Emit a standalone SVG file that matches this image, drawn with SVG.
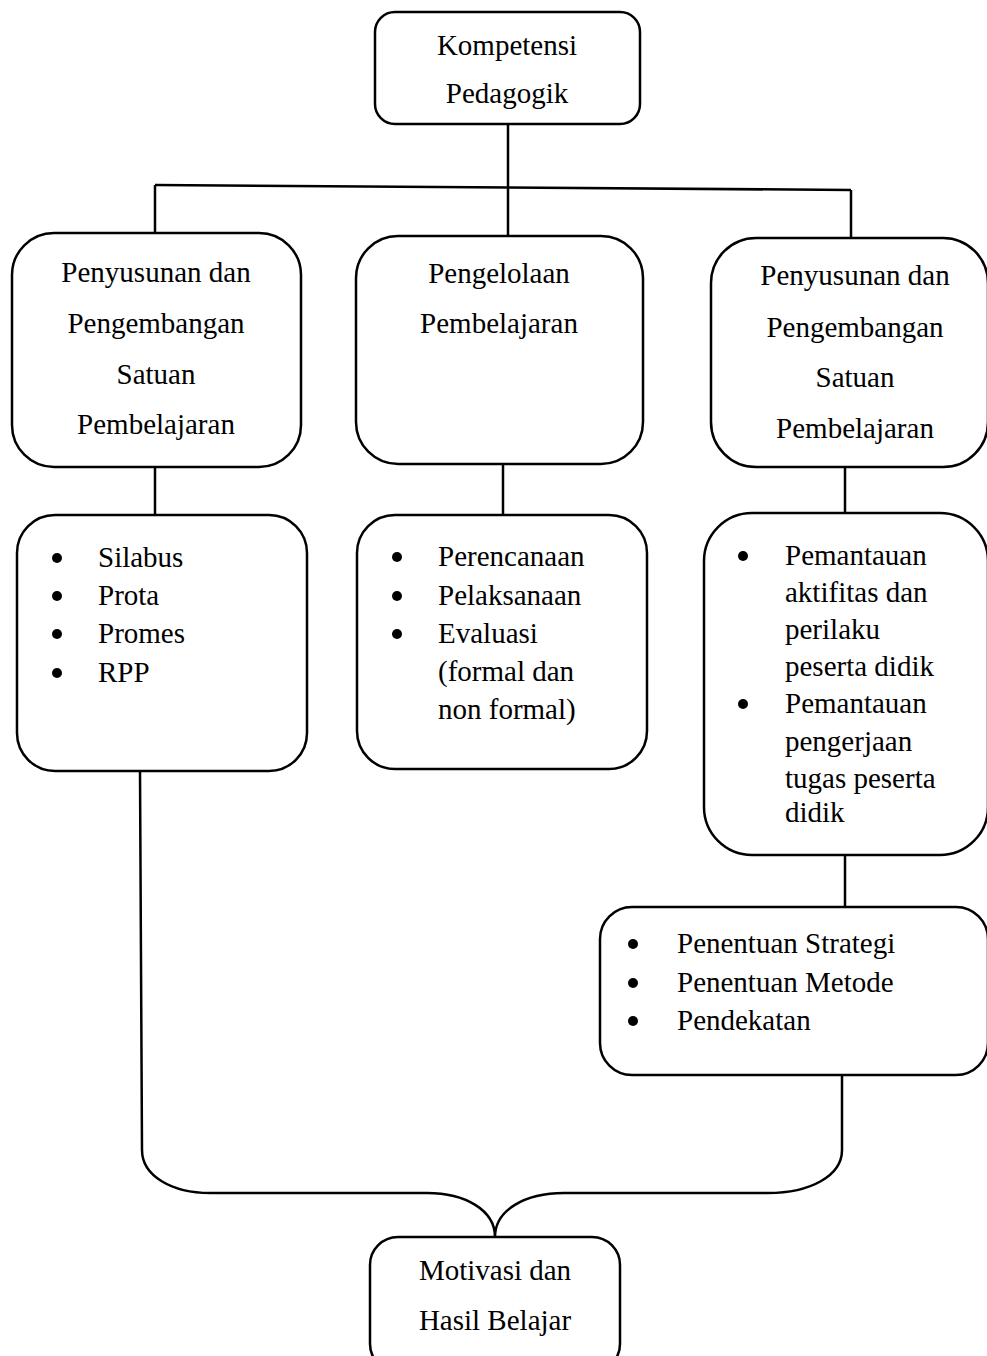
<svg xmlns="http://www.w3.org/2000/svg" width="987" height="1356" viewBox="0 0 987 1356">
<style>
.box{fill:#fff;stroke:#000;stroke-width:2.5}
.ln{fill:none;stroke:#000;stroke-width:2.5}
text{font-family:"Liberation Serif","Times New Roman",serif;font-size:29px;fill:#000}
.c{text-anchor:middle}
.dot{fill:#000}
</style>
<rect width="987" height="1356" fill="#fff"/>
<g id="connectors">
<path class="ln" d="M508,124 L508,236"/>
<path class="ln" d="M155,185 L851,190"/>
<path class="ln" d="M155,185 L155,233"/>
<path class="ln" d="M851,190 L851,238"/>
<path class="ln" d="M155,467 L155,515"/>
<path class="ln" d="M503,464 L503,515"/>
<path class="ln" d="M845,462 L845,513"/>
<path class="ln" d="M845,855 L845,907"/>
<path class="ln" d="M140,771 L142,1150 C142,1176 172,1193 210,1193 L427,1193 C465,1193 495,1210 495,1237 C495,1210 525,1193 564,1193 L768,1193 C810,1193 842,1176 842,1150 L842,1075"/>
</g>
<g id="kompetensi">
<rect class="box" x="375" y="12" width="265" height="112" rx="20"/>
<text class="c" x="507" y="55">Kompetensi</text>
<text class="c" x="507" y="103">Pedagogik</text>
</g>
<g id="penyusunan-left">
<rect class="box" x="12" y="233" width="289" height="234" rx="42"/>
<text class="c" x="156" y="282">Penyusunan dan</text>
<text class="c" x="156" y="333">Pengembangan</text>
<text class="c" x="156" y="384">Satuan</text>
<text class="c" x="156" y="434">Pembelajaran</text>
</g>
<g id="pengelolaan">
<rect class="box" x="356" y="236" width="287" height="228" rx="42"/>
<text class="c" x="499" y="283">Pengelolaan</text>
<text class="c" x="499" y="333">Pembelajaran</text>
</g>
<g id="penyusunan-right">
<rect class="box" x="711" y="238" width="277" height="229" rx="45"/>
<text class="c" x="855" y="285">Penyusunan dan</text>
<text class="c" x="855" y="337">Pengembangan</text>
<text class="c" x="855" y="387">Satuan</text>
<text class="c" x="855" y="438">Pembelajaran</text>
</g>
<g id="list-left">
<rect class="box" x="17" y="515" width="290" height="256" rx="38"/>
<circle class="dot" cx="57" cy="558" r="5"/>
<circle class="dot" cx="57" cy="596" r="5"/>
<circle class="dot" cx="57" cy="634" r="5"/>
<circle class="dot" cx="57" cy="673" r="5"/>
<text x="98" y="567">Silabus</text>
<text x="98" y="605">Prota</text>
<text x="98" y="643">Promes</text>
<text x="98" y="682">RPP</text>
</g>
<g id="list-middle">
<rect class="box" x="357" y="515" width="290" height="254" rx="38"/>
<circle class="dot" cx="397" cy="557" r="5"/>
<circle class="dot" cx="397" cy="596" r="5"/>
<circle class="dot" cx="397" cy="634" r="5"/>
<text x="438" y="566">Perencanaan</text>
<text x="438" y="605">Pelaksanaan</text>
<text x="438" y="643">Evaluasi</text>
<text x="438" y="681">(formal dan</text>
<text x="438" y="719">non formal)</text>
</g>
<g id="list-right">
<rect class="box" x="704" y="513" width="284" height="342" rx="48"/>
<circle class="dot" cx="743" cy="556" r="5"/>
<circle class="dot" cx="743" cy="704" r="5"/>
<text x="785" y="565">Pemantauan</text>
<text x="785" y="602">aktifitas dan</text>
<text x="785" y="639">perilaku</text>
<text x="785" y="676">peserta didik</text>
<text x="785" y="713">Pemantauan</text>
<text x="785" y="751">pengerjaan</text>
<text x="785" y="788">tugas peserta</text>
<text x="785" y="822">didik</text>
</g>
<g id="penentuan">
<rect class="box" x="600" y="907" width="388" height="168" rx="32"/>
<circle class="dot" cx="633" cy="944" r="5"/>
<circle class="dot" cx="633" cy="983" r="5"/>
<circle class="dot" cx="633" cy="1021" r="5"/>
<text x="677" y="953">Penentuan Strategi</text>
<text x="677" y="992">Penentuan Metode</text>
<text x="677" y="1030">Pendekatan</text>
</g>
<g id="motivasi">
<rect class="box" x="370" y="1237" width="250" height="135" rx="28"/>
<text class="c" x="495" y="1280">Motivasi dan</text>
<text class="c" x="495" y="1330">Hasil Belajar</text>
</g>
</svg>
